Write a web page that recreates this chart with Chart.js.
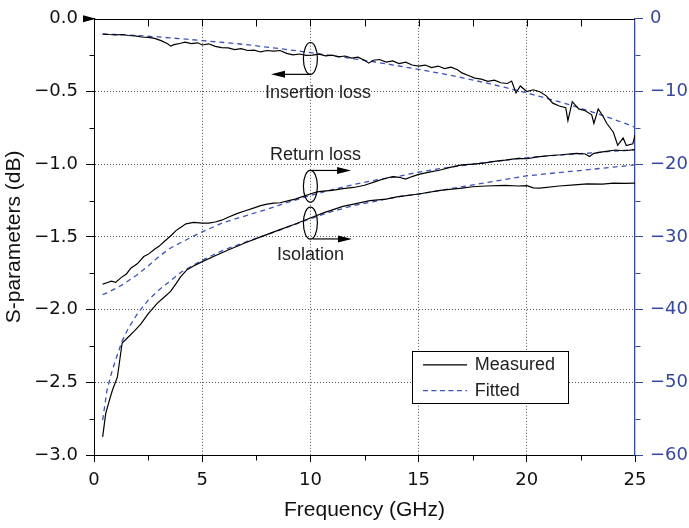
<!DOCTYPE html>
<html>
<head>
<meta charset="utf-8">
<script src="https://cdn.jsdelivr.net/npm/chart.js@4.4.1/dist/chart.umd.min.js"></script>
<style>
html, body { margin: 0; padding: 0; background: #fff; }
canvas { display: block; }
</style>
</head>
<body>
<canvas id="chart" width="689" height="528"></canvas>
<script>
"use strict";

// tick values
var xTicks = [0, 5, 10, 15, 20, 25];
var leftTicks = [0, -0.5, -1, -1.5, -2, -2.5, -3];
var rightTicks = [0, -10, -20, -30, -40, -50, -60];

// insertion loss (left axis, dB)
var insFreq = [0.4, 0.7, 1.0, 1.3, 1.6, 1.9, 2.2, 2.5, 2.8, 3.1, 3.4, 3.55, 3.7, 4.0, 4.2, 4.5, 4.8, 5.0, 5.3, 5.6,
	5.9, 6.2, 6.5, 6.8, 7.1, 7.4, 7.7, 8.0, 8.3, 8.6, 8.9, 9.2, 9.5, 9.8, 10.1, 10.4, 10.7, 11.0, 11.3, 11.6,
	11.9, 12.2, 12.5, 12.7, 12.9, 13.2, 13.5, 13.8, 14.1, 14.4, 14.7, 15.0, 15.3, 15.6, 15.9, 16.2, 16.5, 16.8, 17.0, 17.3,
	17.6, 17.9, 18.2, 18.5, 18.8, 19.1, 19.3, 19.5, 19.7, 20.0, 20.3, 20.6, 20.9, 21.2, 21.5, 21.8, 21.9, 22.1, 22.4, 22.7,
	23.0, 23.1, 23.3, 23.5, 23.7, 24.0, 24.2, 24.45, 24.6, 24.9, 25.0];
var insMeasured = [-0.105, -0.108, -0.11, -0.108, -0.115, -0.118, -0.125, -0.128, -0.135, -0.15, -0.172, -0.188, -0.178, -0.168, -0.16, -0.17, -0.165, -0.18, -0.172, -0.19,
	-0.198, -0.2, -0.212, -0.205, -0.218, -0.215, -0.228, -0.218, -0.222, -0.218, -0.238, -0.248, -0.242, -0.252, -0.25, -0.243, -0.255, -0.25, -0.262, -0.256,
	-0.27, -0.264, -0.285, -0.305, -0.285, -0.28, -0.298, -0.29, -0.308, -0.298, -0.318, -0.325, -0.318, -0.335, -0.325, -0.342, -0.332, -0.35, -0.372, -0.39,
	-0.408, -0.415, -0.43, -0.422, -0.44, -0.445, -0.428, -0.51, -0.462, -0.5, -0.488, -0.502, -0.53, -0.58, -0.6, -0.612, -0.7, -0.57, -0.62, -0.632,
	-0.66, -0.72, -0.62, -0.665, -0.72, -0.78, -0.87, -0.82, -0.872, -0.86, -0.8];

// return loss (right axis, dB)
var retFreq = [0.4, 0.6, 0.8, 1.0, 1.25, 1.5, 1.7, 2.0, 2.3, 2.5, 2.8, 3.0, 3.3, 3.6, 3.8, 4.0, 4.25, 4.6, 5.0, 5.3,
	5.6, 5.9, 6.2, 6.6, 7.0, 7.4, 7.7, 8.0, 8.3, 8.6, 9.0, 9.3, 9.6, 10.0, 10.3, 10.6, 11.0, 11.5, 12.0, 12.5,
	13.0, 13.4, 13.8, 14.1, 14.4, 14.7, 15.0, 15.5, 16.0, 16.5, 17.0, 17.5, 18.0, 18.5, 19.0, 19.6, 20.0, 20.5, 21.1, 21.6,
	22.3, 22.7, 22.9, 23.1, 23.5, 24.1, 24.5, 25.0];
var retMeasured = [-36.5, -36.3, -36.1, -36.25, -35.6, -35.1, -34.3, -33.7, -32.7, -32.4, -31.7, -31.3, -30.5, -29.7, -29.1, -28.7, -28.2, -28.0, -28.1, -28.1,
	-27.95, -27.7, -27.3, -26.8, -26.4, -26.0, -25.7, -25.5, -25.35, -25.3, -25.0, -24.8, -24.5, -24.1, -23.8, -23.7, -23.6, -23.35, -23.2, -22.9,
	-22.4, -22.0, -21.7, -21.8, -22.05, -21.7, -21.4, -21.1, -20.8, -20.4, -20.1, -20.0, -19.85, -19.6, -19.45, -19.2, -19.25, -19.0, -18.8, -18.7,
	-18.5, -18.6, -18.95, -18.5, -18.3, -18.05, -18.15, -18.0];

// isolation (right axis, dB)
var isoFreq = [0.4, 0.54, 0.7, 0.85, 1.08, 1.3, 1.54, 1.85, 2.16, 2.5, 2.93, 3.2, 3.54, 3.8, 4.0, 4.3, 4.6, 5.0, 5.6, 6.2,
	7.0, 7.7, 8.5, 9.24, 10.0, 10.6, 11.5, 12.0, 12.75, 13.5, 14.0, 15.0, 16.0, 17.0, 17.5, 18.1, 19.0, 19.6, 20.0, 20.3,
	20.6, 21.5, 22.2, 22.8, 23.5, 24.0, 24.5, 25.0];
var isoMeasured = [-57.5, -54.3, -52.6, -51.1, -49.3, -44.6, -43.9, -43.0, -42.0, -40.6, -39.1, -38.4, -37.5, -36.4, -35.5, -34.5, -34.0, -33.4, -32.6, -31.8,
	-30.8, -30.0, -29.1, -28.3, -27.4, -26.7, -25.8, -25.5, -25.0, -24.8, -24.5, -24.1, -23.6, -23.3, -23.1, -23.0, -22.9, -23.0, -22.95, -23.25,
	-23.3, -23.0, -22.85, -22.7, -22.75, -22.6, -22.65, -22.6];

// fitted curves, shared frequency grid
var fitFreq = [0.4, 0.6, 0.8, 1, 1.3, 1.6, 2, 2.5, 3, 3.5, 4, 5, 6, 7, 8, 9, 10, 11, 12, 13,
	14, 15, 16, 17, 18, 19, 20, 21, 22, 23, 24, 25];
var insFitted = [-0.105, -0.106, -0.107, -0.108, -0.11, -0.112, -0.115, -0.12, -0.125, -0.131, -0.137, -0.15, -0.163, -0.177, -0.195, -0.213, -0.233, -0.253, -0.275, -0.297,
	-0.322, -0.348, -0.375, -0.405, -0.437, -0.472, -0.51, -0.55, -0.592, -0.64, -0.69, -0.745];
var retFitted = [-37.95, -37.7, -37.4, -37.1, -36.6, -36.0, -35.2, -34.0, -32.7, -31.6, -30.8, -29.3, -28.0, -27.1, -26.2, -25.2, -24.3, -23.5, -22.8, -22.2,
	-21.7, -21.1, -20.6, -20.2, -19.8, -19.45, -19.1, -18.85, -18.65, -18.45, -18.2, -18.0];
var isoFitted = [-55.2, -51.1, -48.8, -46.9, -44.3, -42.5, -40.6, -38.7, -37.3, -36.1, -34.9, -33.2, -31.8, -30.7, -29.7, -28.6, -27.5, -26.5, -25.7, -25.1,
	-24.5, -24.1, -23.6, -23.1, -22.6, -22.1, -21.6, -21.3, -21.0, -20.7, -20.4, -20.1];

var FIT_BLUE = '#3d53b8';
var AXIS_BLUE = '#36479e';
var TICK_FONT = { family: '"DejaVu Sans", sans-serif', size: 18 };
var TITLE_FONT = { family: '"Liberation Sans", Arial, sans-serif', size: 21 };
var NOTE_FONT = '18px "Liberation Sans", Arial, sans-serif';
var MINUS = '\u2212';

function Series(label, freq, vals, axis, fitted) {
	return {
		label: label,
		data: freq.map(function (f, i) { return { x: f, y: vals[i] }; }),
		yAxisID: axis,
		borderColor: fitted ? FIT_BLUE : '#000',
		borderWidth: fitted ? 1.3 : 1.2,
		borderDash: fitted ? [5, 4] : [],
		pointRadius: 0,
		tension: 0,
		fill: false
	};
}

function EdgeHidden(first, last, color) {
	return function (c) {
		if (c.tick && (c.tick.value === first || c.tick.value === last)) return 'rgba(0,0,0,0)';
		return color;
	};
}

// ellipses, arrows, labels, legend, minor ticks and top axis
var decorPlugin = {
	id: 'decor',
	afterDraw: function (chart) {
		var ctx = chart.ctx;
		var area = chart.chartArea;
		var xs = chart.scales.x, yl = chart.scales.y, yr = chart.scales.y2;
		var px = function (v) { return xs.getPixelForValue(v); };
		var py = function (v) { return yl.getPixelForValue(v); };
		var i, p;

		ctx.save();
		ctx.lineWidth = 1;
		ctx.strokeStyle = '#000';
		ctx.fillStyle = '#000';

		// top axis line with inward ticks
		var top = Math.round(area.top) + 0.5;
		ctx.beginPath();
		ctx.moveTo(area.left, top);
		ctx.lineTo(area.right, top);
		for (i = 2.5; i < 25; i += 2.5) {
			p = Math.round(px(i)) + 0.5;
			ctx.moveTo(p, top);
			ctx.lineTo(p, top + 7);
		}
		ctx.stroke();

		// minor ticks, bottom and left
		var bottom = Math.round(area.bottom) + 0.5;
		var left = Math.round(area.left) + 0.5;
		ctx.beginPath();
		for (i = 2.5; i < 25; i += 5) {
			p = Math.round(px(i)) + 0.5;
			ctx.moveTo(p, bottom);
			ctx.lineTo(p, bottom + 5);
		}
		for (i = -0.25; i > -3; i -= 0.5) {
			p = Math.round(py(i)) + 0.5;
			ctx.moveTo(left, p);
			ctx.lineTo(left - 5, p);
		}
		ctx.stroke();

		// minor ticks, right (blue)
		var right = Math.round(area.right) + 0.5;
		ctx.strokeStyle = AXIS_BLUE;
		ctx.beginPath();
		for (i = -5; i > -60; i -= 10) {
			p = Math.round(yr.getPixelForValue(i)) + 0.5;
			ctx.moveTo(right, p);
			ctx.lineTo(right + 5, p);
		}
		ctx.stroke();

		// arrow head at the top-left corner
		ctx.beginPath();
		ctx.moveTo(area.left - 11, area.top - 3.5);
		ctx.lineTo(area.left - 11, area.top + 3.5);
		ctx.lineTo(area.left + 2, area.top);
		ctx.closePath();
		ctx.fill();

		// ellipses around the curves at 10 GHz
		ctx.strokeStyle = '#000';
		ctx.lineWidth = 1.2;
		[-0.273, -1.152, -1.405].forEach(function (v) {
			ctx.beginPath();
			ctx.ellipse(px(10), py(v), 7, 16, 0, 0, Math.PI * 2);
			ctx.stroke();
		});

		function Arrow(x1, y, x2) {
			var dir = x2 > x1 ? 1 : -1;
			ctx.beginPath();
			ctx.moveTo(x1, y);
			ctx.lineTo(x2 - dir * 10, y);
			ctx.stroke();
			ctx.beginPath();
			ctx.moveTo(x2, y);
			ctx.lineTo(x2 - dir * 14, y - 3.5);
			ctx.lineTo(x2 - dir * 14, y + 3.5);
			ctx.closePath();
			ctx.fill();
		}
		Arrow(px(10), py(-0.382), px(8.18));
		Arrow(px(10), py(-1.043), px(11.88));
		Arrow(px(10.1), py(-1.514), px(11.92));

		// curve labels
		ctx.font = NOTE_FONT;
		ctx.textAlign = 'left';
		ctx.textBaseline = 'middle';
		ctx.fillStyle = '#222';
		ctx.fillText('Insertion loss', px(7.9), py(-0.508));
		ctx.fillText('Return loss', px(8.13), py(-0.934));
		ctx.fillText('Isolation', px(8.46), py(-1.623));

		// legend box
		var bx1 = Math.round(px(14.7)) + 0.5, bx2 = Math.round(px(21.9)) + 0.5;
		var by1 = Math.round(py(-2.284)) + 0.5, by2 = Math.round(py(-2.645)) + 0.5;
		ctx.fillStyle = '#fff';
		ctx.fillRect(bx1, by1, bx2 - bx1, by2 - by1);
		ctx.strokeStyle = '#000';
		ctx.lineWidth = 1;
		ctx.strokeRect(bx1, by1, bx2 - bx1, by2 - by1);

		var ly1 = py(-2.38), ly2 = py(-2.557);
		ctx.lineWidth = 1.2;
		ctx.beginPath();
		ctx.moveTo(px(15.2), ly1);
		ctx.lineTo(px(17.24), ly1);
		ctx.stroke();
		ctx.strokeStyle = FIT_BLUE;
		ctx.setLineDash([5, 3.5]);
		ctx.beginPath();
		ctx.moveTo(px(15.2), ly2);
		ctx.lineTo(px(17.24), ly2);
		ctx.stroke();
		ctx.setLineDash([]);
		ctx.fillStyle = '#222';
		ctx.fillText('Measured', px(17.6), ly1);
		ctx.fillText('Fitted', px(17.6), ly2);

		ctx.restore();
	}
};

var context = document.getElementById('chart');
var myChart = new Chart(context, {
	type: 'line',
	data: {
		datasets: [
			Series('Insertion loss measured', insFreq, insMeasured, 'y', false),
			Series('Return loss measured', retFreq, retMeasured, 'y2', false),
			Series('Isolation measured', isoFreq, isoMeasured, 'y2', false),
			Series('Insertion loss fitted', fitFreq, insFitted, 'y', true),
			Series('Return loss fitted', fitFreq, retFitted, 'y2', true),
			Series('Isolation fitted', fitFreq, isoFitted, 'y2', true)
		]
	},
	options: {
		responsive: false,
		animation: false,
		devicePixelRatio: 1,
		layout: { padding: { top: 15, left: 0, right: 0, bottom: 0 } },
		plugins: {
			legend: { display: false },
			tooltip: { enabled: false }
		},
		scales: {
			x: {
				type: 'linear',
				position: 'bottom',
				min: 0,
				max: 25,
				afterBuildTicks: function (scale) {
					scale.ticks = xTicks.map(function (v) { return { value: v }; });
				},
				afterFit: function (scale) { scale.height = 73; },
				ticks: {
					color: '#111',
					font: TICK_FONT,
					padding: 8,
					maxRotation: 0,
					callback: function (v) { return String(v); }
				},
				grid: {
					color: EdgeHidden(0, 25, '#555'),
					tickColor: '#000',
					tickLength: 7,
					lineWidth: 1
				},
				border: { color: '#000', width: 1, dash: [1, 2] },
				title: {
					display: true,
					text: 'Frequency (GHz)',
					color: '#111',
					font: TITLE_FONT,
					padding: { top: 0, bottom: 5 }
				}
			},
			y: {
				type: 'linear',
				position: 'left',
				min: -3,
				max: 0,
				afterBuildTicks: function (scale) {
					scale.ticks = leftTicks.map(function (v) { return { value: v }; });
				},
				afterFit: function (scale) { scale.width = 94; },
				ticks: {
					color: '#111',
					font: TICK_FONT,
					padding: 8,
					callback: function (v) { return v.toFixed(1).replace('-', MINUS); }
				},
				grid: {
					color: EdgeHidden(0, -3, '#555'),
					tickColor: '#000',
					tickLength: 8,
					lineWidth: 1
				},
				border: { color: '#000', width: 1, dash: [1, 2] },
				title: {
					display: true,
					text: 'S-parameters (dB)',
					color: '#111',
					font: TITLE_FONT,
					padding: { top: 2, bottom: 0 }
				}
			},
			y2: {
				type: 'linear',
				position: 'right',
				min: -60,
				max: 0,
				afterBuildTicks: function (scale) {
					scale.ticks = rightTicks.map(function (v) { return { value: v }; });
				},
				afterFit: function (scale) { scale.width = 54; },
				ticks: {
					color: AXIS_BLUE,
					font: TICK_FONT,
					padding: 7,
					callback: function (v) { return v === 0 ? '0' : MINUS + Math.abs(v); }
				},
				grid: {
					drawOnChartArea: false,
					color: AXIS_BLUE,
					tickColor: AXIS_BLUE,
					tickLength: 8,
					lineWidth: 1
				},
				border: { color: AXIS_BLUE, width: 1.3 }
			}
		}
	},
	plugins: [decorPlugin]
});
</script>
</body>
</html>
